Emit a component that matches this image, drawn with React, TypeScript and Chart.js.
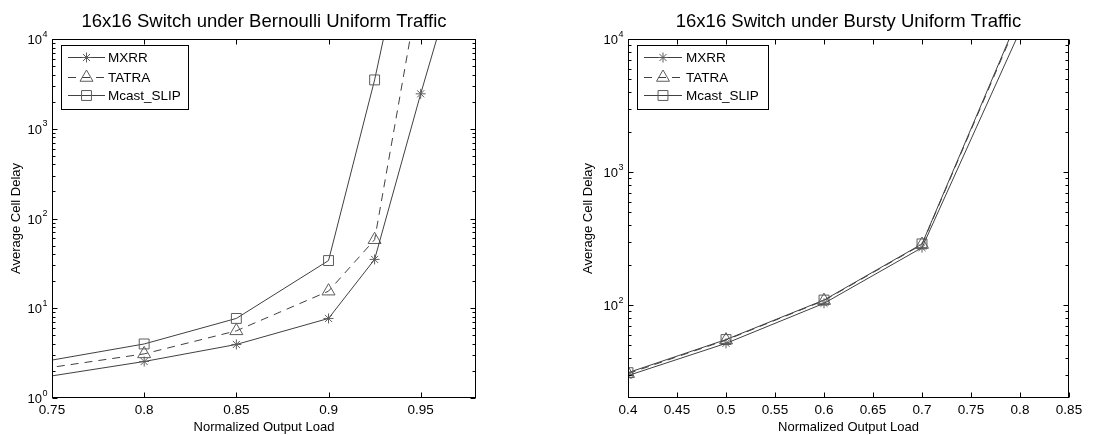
import React, { useEffect, useRef } from 'react';
import { Chart, registerables } from 'chart.js';

Chart.register(...registerables);

const FONT = '"Liberation Sans", Arial, Helvetica, sans-serif';
const LINE_COLOR = '#404040';
const MARK_COLOR = '#5c5c5c';

const seriesNames = ['MXRR', 'TATRA', 'Mcast_SLIP'];
const pointStyles = ['star', 'triangle', 'rect'];
const pointRadii = [5, 7.5, 7];
const lineDashes: number[][] = [[], [8, 6], []];

// ---- Left panel: Bernoulli uniform traffic ----
const bernTitle = '16x16 Switch under Bernoulli Uniform Traffic';
const bernX_MXRR = [0.7, 0.8, 0.85, 0.9, 0.925, 0.95, 0.975];
const bernY_MXRR = [1.22, 2.55, 3.95, 7.7, 35, 2450, 140000];
const bernX_TATRA = [0.7, 0.8, 0.85, 0.9, 0.925, 0.95];
const bernY_TATRA = [1.56, 3.1, 5.6, 15.5, 58, 47000];
const bernX_SLIP = [0.7, 0.8, 0.85, 0.9, 0.925, 0.95];
const bernY_SLIP = [1.75, 4.0, 7.7, 34, 3500, 850000];
const bernXTicks = [0.75, 0.8, 0.85, 0.9, 0.95];
const bernYTicks = [1, 10, 100, 1000, 10000];

// ---- Right panel: Bursty uniform traffic ----
const burstTitle = '16x16 Switch under Bursty Uniform Traffic';
const burstX = [0.4, 0.5, 0.6, 0.7, 0.8];
const burstY_MXRR = [29.5, 51.5, 103, 270, 11500];
const burstY_TATRA = [30.5, 54.5, 108, 285, 15000];
const burstY_SLIP = [31, 55, 109, 288, 15500];
const burstXTicks = [0.4, 0.45, 0.5, 0.55, 0.6, 0.65, 0.7, 0.75, 0.8, 0.85];
const burstYTicks = [100, 1000, 10000];

const xAxisLabel = 'Normalized Output Load';
const yAxisLabel = 'Average Cell Delay';

type PanelCfg = {
  offsetX: number;
  width: number;
  padding: { left: number; right: number; top: number; bottom: number };
  title: string;
  xs: number[][];
  ys: number[][];
  xMin: number;
  xMax: number;
  yMin: number;
  yMax: number;
  xTicks: number[];
  yTicks: number[];
  legendBox: [number, number, number, number];
  legendLine: [number, number];
  legendRows: number[];
  legendTextX: number;
  yLabelX: number;
};

const panels: PanelCfg[] = [
  {
    offsetX: 0,
    width: 550,
    padding: { left: 52, right: 74, top: 39, bottom: 0 },
    title: bernTitle,
    xs: [bernX_MXRR, bernX_TATRA, bernX_SLIP],
    ys: [bernY_MXRR, bernY_TATRA, bernY_SLIP],
    xMin: 0.75,
    xMax: 0.98,
    yMin: 1,
    yMax: 10000,
    xTicks: bernXTicks,
    yTicks: bernYTicks,
    legendBox: [61, 45, 188, 109],
    legendLine: [68, 105],
    legendRows: [57, 77, 95],
    legendTextX: 108,
    yLabelX: 16,
  },
  {
    offsetX: 550,
    width: 551,
    padding: { left: 78, right: 32, top: 39, bottom: 0 },
    title: burstTitle,
    xs: [burstX, burstX, burstX],
    ys: [burstY_MXRR, burstY_TATRA, burstY_SLIP],
    xMin: 0.4,
    xMax: 0.85,
    yMin: 20,
    yMax: 10000,
    xTicks: burstXTicks,
    yTicks: burstYTicks,
    legendBox: [637, 45, 768, 109],
    legendLine: [644, 682],
    legendRows: [57, 77, 95],
    legendTextX: 686,
    yLabelX: 588,
  },
];

function drawMarker(ctx: CanvasRenderingContext2D, style: string, x: number, y: number, r: number) {
  ctx.beginPath();
  if (style === 'star') {
    for (let k = 0; k < 4; k++) {
      const ang = (k * Math.PI) / 4;
      const dx = Math.cos(ang) * r;
      const dy = Math.sin(ang) * r;
      ctx.moveTo(x - dx, y - dy);
      ctx.lineTo(x + dx, y + dy);
    }
  } else if (style === 'triangle') {
    ctx.moveTo(x, y - r);
    ctx.lineTo(x + r * Math.sin((2 * Math.PI) / 3), y + r / 2);
    ctx.lineTo(x - r * Math.sin((2 * Math.PI) / 3), y + r / 2);
    ctx.closePath();
  } else {
    const s = r * Math.SQRT1_2;
    ctx.rect(x - s, y - s, 2 * s, 2 * s);
  }
  ctx.stroke();
}

function fmtTick(v: number) {
  return String(Number(v.toFixed(3)));
}

function makePlugin(c: PanelCfg) {
  return {
    id: 'matlabDecor',
    afterDraw(chart: any) {
      const ctx: CanvasRenderingContext2D = chart.ctx;
      const a = chart.chartArea;
      const xs = chart.scales.x;
      const ys = chart.scales.y;
      const ox = c.offsetX;
      const L = Math.round(a.left) + 0.5;
      const R = Math.round(a.right) - 0.5;
      const T = Math.round(a.top) + 0.5;
      const B = Math.round(a.bottom) - 0.5;
      ctx.save();
      ctx.strokeStyle = '#000';
      ctx.lineWidth = 1;
      ctx.setLineDash([]);
      // box
      ctx.strokeRect(L, T, R - L, B - T);
      // x ticks (inside, top & bottom)
      ctx.beginPath();
      c.xTicks.forEach((v) => {
        const px = Math.round(xs.getPixelForValue(v)) + 0.5;
        ctx.moveTo(px, B);
        ctx.lineTo(px, B - 5);
        ctx.moveTo(px, T);
        ctx.lineTo(px, T + 5);
      });
      // y major ticks
      c.yTicks.forEach((v) => {
        const py = Math.round(ys.getPixelForValue(v)) + 0.5;
        ctx.moveTo(L, py);
        ctx.lineTo(L + 5, py);
        ctx.moveTo(R, py);
        ctx.lineTo(R - 5, py);
      });
      // y minor ticks
      for (let d = 1; d < c.yMax; d *= 10) {
        for (let m = 2; m <= 9; m++) {
          const v = m * d;
          if (v <= c.yMin || v >= c.yMax) continue;
          const py = Math.round(ys.getPixelForValue(v)) + 0.5;
          ctx.moveTo(L, py);
          ctx.lineTo(L + 3, py);
          ctx.moveTo(R, py);
          ctx.lineTo(R - 3, py);
        }
      }
      ctx.stroke();

      // y tick labels with superscript exponents
      ctx.fillStyle = '#000';
      c.yTicks.forEach((v) => {
        const py = ys.getPixelForValue(v);
        const e = Math.round(Math.log10(v));
        ctx.font = `13px ${FONT}`;
        ctx.textAlign = 'right';
        ctx.textBaseline = 'middle';
        ctx.fillText('10', a.left - 10, py + 1.5);
        ctx.font = `9px ${FONT}`;
        ctx.textAlign = 'left';
        ctx.textBaseline = 'alphabetic';
        ctx.fillText(String(e), a.left - 9.5, py - 2.5);
      });

      // title
      const cx = (a.left + a.right) / 2;
      ctx.font = `18.5px ${FONT}`;
      ctx.textAlign = 'center';
      ctx.textBaseline = 'alphabetic';
      ctx.fillText(c.title, cx, 27);

      // x axis label
      ctx.font = `13px ${FONT}`;
      ctx.fillText(xAxisLabel, cx, 431);

      // y axis label
      ctx.save();
      ctx.translate(c.yLabelX - ox, (a.top + a.bottom) / 2);
      ctx.rotate(-Math.PI / 2);
      ctx.textAlign = 'center';
      ctx.textBaseline = 'middle';
      ctx.font = `13px ${FONT}`;
      ctx.fillText(yAxisLabel, 0, 0);
      ctx.restore();

      // legend
      const [bx0, by0, bx1, by1] = c.legendBox;
      ctx.fillStyle = '#fff';
      ctx.fillRect(bx0 - ox, by0, bx1 - bx0, by1 - by0);
      ctx.strokeStyle = '#000';
      ctx.lineWidth = 1;
      ctx.strokeRect(bx0 - ox + 0.5, by0 + 0.5, bx1 - bx0, by1 - by0);
      chart.data.datasets.forEach((ds: any, i: number) => {
        const y = c.legendRows[i];
        const [l0, l1] = c.legendLine;
        ctx.strokeStyle = LINE_COLOR;
        ctx.lineWidth = 1;
        ctx.setLineDash(lineDashes[i]);
        ctx.beginPath();
        ctx.moveTo(l0 - ox, y + 0.5);
        ctx.lineTo(l1 - ox, y + 0.5);
        ctx.stroke();
        ctx.setLineDash([]);
        ctx.strokeStyle = MARK_COLOR;
        drawMarker(ctx, pointStyles[i], (l0 + l1) / 2 - ox, y + 0.5, pointRadii[i]);
        ctx.fillStyle = '#000';
        ctx.font = `13.5px ${FONT}`;
        ctx.textAlign = 'left';
        ctx.textBaseline = 'middle';
        ctx.fillText(ds.label, c.legendTextX - ox, y + 1);
      });
      ctx.restore();
    },
  };
}

function Panel({ cfg }: { cfg: PanelCfg }) {
  const ref = useRef<HTMLCanvasElement>(null);
  useEffect(() => {
    const c = cfg;
    const datasets = seriesNames.map((name, i) => ({
      label: name,
      data: c.xs[i].map((x, j) => ({ x, y: c.ys[i][j] })),
      borderColor: LINE_COLOR,
      borderWidth: 1,
      borderDash: lineDashes[i],
      pointStyle: pointStyles[i] as any,
      pointRadius: pointRadii[i],
      pointBorderColor: MARK_COLOR,
      pointBackgroundColor: 'rgba(0,0,0,0)',
      pointBorderWidth: 1,
      fill: false,
      tension: 0,
    }));
    const chart = new Chart(ref.current as HTMLCanvasElement, {
      type: 'line',
      data: { datasets },
      options: {
        responsive: false,
        animation: false,
        devicePixelRatio: 1,
        events: [],
        layout: { padding: c.padding },
        plugins: {
          legend: { display: false },
          title: { display: false },
          tooltip: { enabled: false },
        },
        scales: {
          x: {
            type: 'linear',
            min: c.xMin,
            max: c.xMax,
            grid: { display: false, drawTicks: false },
            border: { display: false },
            ticks: {
              color: '#000',
              font: { family: FONT, size: 13.5 },
              padding: 4,
              autoSkip: false,
              maxRotation: 0,
              callback: (v: any) => fmtTick(Number(v)),
            },
            afterBuildTicks: (s: any) => {
              s.ticks = c.xTicks.map((v) => ({ value: v }));
            },
            afterFit: (s: any) => {
              s.height = 37;
            },
          },
          y: {
            type: 'logarithmic',
            min: c.yMin,
            max: c.yMax,
            display: false,
          },
        },
      } as any,
      plugins: [makePlugin(c)],
    });
    return () => chart.destroy();
  }, [cfg]);
  return (
    <canvas
      ref={ref}
      width={cfg.width}
      height={435}
      style={{ position: 'absolute', left: cfg.offsetX, top: 0, width: cfg.width, height: 435 }}
    />
  );
}

export default function App() {
  return (
    <div style={{ position: 'absolute', left: 0, top: 0, width: 1101, height: 435, background: '#fff', overflow: 'hidden' }}>
      {panels.map((p, i) => (
        <Panel key={i} cfg={p} />
      ))}
    </div>
  );
}
